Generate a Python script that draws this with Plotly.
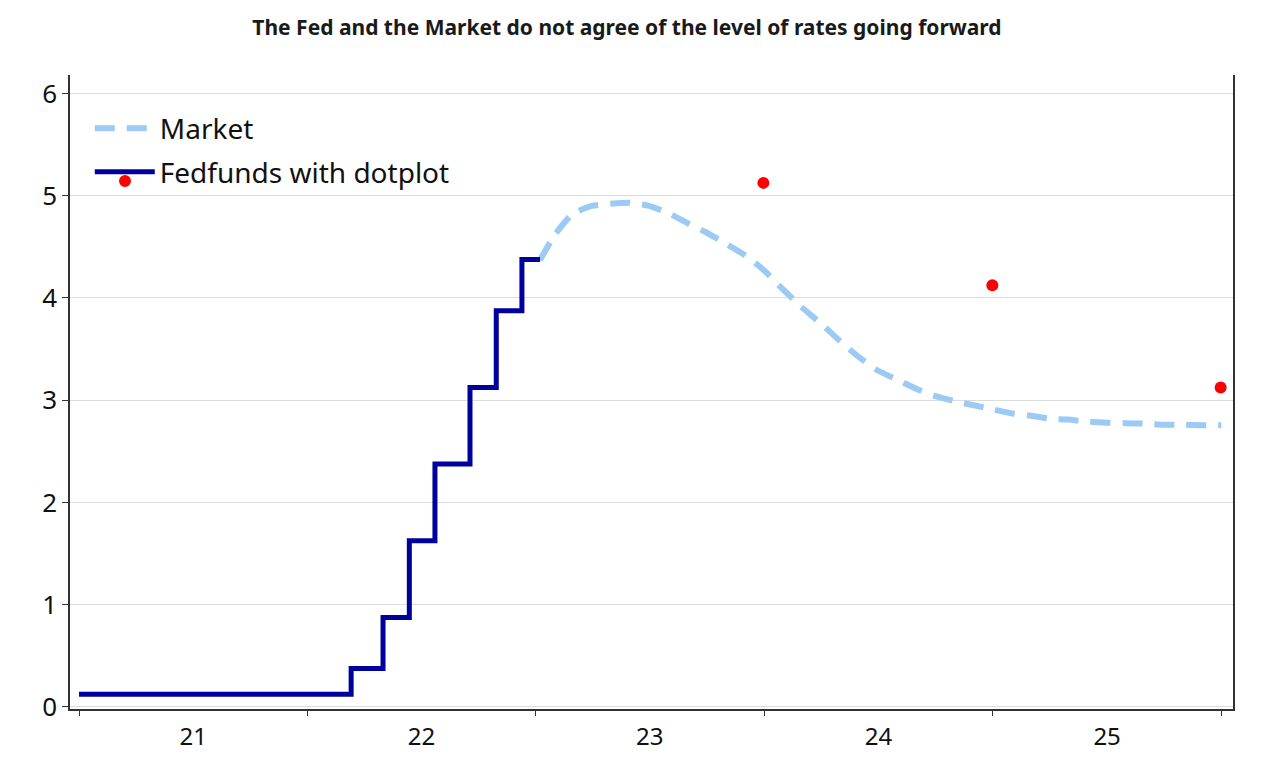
import plotly.graph_objects as go

# Fed funds (midpoint of target range), step changes
fed_dates = ["2021-01-01", "2022-03-12", "2022-05-02", "2022-06-13", "2022-07-24",
             "2022-09-18", "2022-10-30", "2022-12-10", "2023-01-08"]
fed_values = [0.125, 0.375, 0.875, 1.625, 2.375, 3.125, 3.875, 4.375, 4.375]

# FOMC dot plot medians
dot_dates = ["2023-12-31", "2024-12-31", "2025-12-31"]
dot_values = [5.125, 4.125, 3.125]

# Market implied path
market_dates = ["2023-01-08", "2023-02-01", "2023-03-01", "2023-04-01", "2023-05-01", "2023-06-01",
                "2023-07-01", "2023-08-01", "2023-09-01", "2023-10-01", "2023-11-01",
                "2023-12-01", "2024-01-01", "2024-02-01", "2024-03-01", "2024-04-01",
                "2024-05-01", "2024-06-01", "2024-07-01", "2024-08-01", "2024-09-01",
                "2024-10-01", "2024-11-01", "2024-12-01", "2025-01-01", "2025-02-01",
                "2025-03-01", "2025-04-01", "2025-05-01", "2025-06-01", "2025-07-01",
                "2025-08-01", "2025-09-01", "2025-10-01", "2025-11-01", "2025-12-01",
                "2026-01-01"]
market_values = [4.37, 4.62, 4.82, 4.90, 4.92, 4.93, 4.90, 4.83, 4.73, 4.64, 4.53,
                 4.42, 4.27, 4.08, 3.91, 3.75, 3.58, 3.42, 3.29, 3.20, 3.11,
                 3.04, 2.99, 2.95, 2.91, 2.87, 2.85, 2.82, 2.81, 2.79, 2.78,
                 2.775, 2.77, 2.76, 2.76, 2.755, 2.755]

y_ticks = [0, 1, 2, 3, 4, 5, 6]

FONT = "Noto Sans"

fig = go.Figure()
fig.add_trace(go.Scatter(
    x=market_dates, y=market_values, mode="lines", name="Market", legendgroup="m",
    line=dict(color="#9ccaf5", width=6, dash="20px,12px", shape="spline", smoothing=0.6),
))
fig.add_trace(go.Scatter(
    x=fed_dates, y=fed_values, mode="lines", name="Fedfunds with dotplot", legendgroup="f",
    line=dict(color="#00009c", width=5, shape="hv"),
))
fig.add_trace(go.Scatter(
    x=dot_dates, y=dot_values, mode="markers", name="Dotplot", showlegend=False, legendgroup="f",
    marker=dict(color="#ff0000", size=12),
))

# red dot glyph under the "Fedfunds with dotplot" legend line
fig.add_shape(type="circle", xref="paper", yref="paper",
              xsizemode="pixel", ysizemode="pixel",
              xanchor=0.0473, yanchor=0.8328, x0=-6, x1=6, y0=-6, y1=6,
              fillcolor="#ff0000", line=dict(width=0), layer="above")

fig.update_layout(
    width=1264, height=745,
    plot_bgcolor="white", paper_bgcolor="white",
    margin=dict(l=62, r=39, t=67, b=44, autoexpand=False),
    title=dict(text="<b>The Fed and the Market do not agree of the level of rates going forward</b>",
               x=0.4897, xanchor="center", y=0.973, yanchor="middle",
               font=dict(family=FONT, size=21, color="#1a1a1a")),
    font=dict(family=FONT, color="#111111"),
    showlegend=True,
    legend=dict(x=0.017, y=0.955, xanchor="left", yanchor="top",
                bgcolor="rgba(0,0,0,0)", font=dict(family=FONT, size=28, color="#111111"),
                traceorder="grouped", tracegroupgap=4, itemwidth=60),
    xaxis=dict(
        type="date", range=["2020-12-17 14:00", "2026-01-19 17:00"],
        showgrid=False, showline=True, linecolor="#333333", linewidth=1.5,
        ticks="outside", ticklen=5, tickcolor="#333333",
        ticklabelmode="period", tickformat="%y", dtick="M12", tick0="2021-01-01",
        tickfont=dict(family=FONT, size=24, color="#111111"),
        zeroline=False, automargin=False,
    ),
    yaxis=dict(
        range=[-0.02, 6.18], tickvals=y_ticks,
        showgrid=True, gridcolor="#dcdcdc", gridwidth=1,
        showline=True, linecolor="#333333", linewidth=1.5, mirror=True,
        ticks="outside", ticklen=6, tickcolor="#333333",
        tickfont=dict(family=FONT, size=26, color="#111111"),
        zeroline=False, automargin=False,
    ),
)

fig.write_html("out.html")
